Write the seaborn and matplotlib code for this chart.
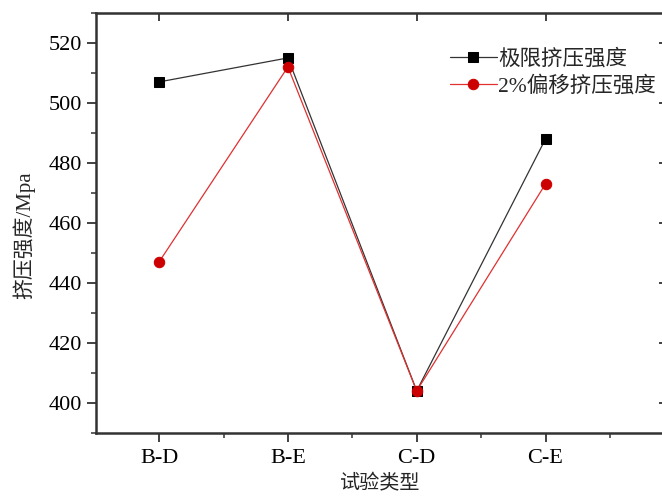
import pandas as pd
import matplotlib
matplotlib.use('Agg')
import matplotlib.pyplot as plt
import seaborn as sns
from matplotlib.ticker import MultipleLocator

# data
types = ['B-D', 'B-E', 'C-D', 'C-E']
ultimate = [507, 515, 404, 488]
offset_2pct = [447, 512, 404, 473]

sns.set_style('ticks')
plt.rcParams['font.family'] = ['Liberation Serif', 'Noto Sans CJK SC']
plt.rcParams['axes.unicode_minus'] = False

df = pd.DataFrame({'type': types, 'ult': ultimate, 'off': offset_2pct})

fig = plt.figure(figsize=(6.62, 4.97), dpi=100)
ax = fig.add_axes([0.145, 0.129, 0.86, 0.845])

sns.lineplot(data=df, x='type', y='ult', ax=ax, color='#333333', lw=0.9,
             marker='s', markersize=7, markerfacecolor='black',
             markeredgecolor='black', label='极限挤压强度', sort=False)
sns.lineplot(data=df, x='type', y='off', ax=ax, color='#e03030', lw=0.9,
             marker='o', markersize=7.5, markerfacecolor='#cc0000',
             markeredgecolor='#cc0000', label='2%偏移挤压强度', sort=False)

ax.set_ylim(390, 530)
ax.set_xlim(-0.49, 3.93)
ax.yaxis.set_major_locator(MultipleLocator(20))
ax.yaxis.set_minor_locator(MultipleLocator(10))
ax.xaxis.set_minor_locator(MultipleLocator(0.5))

for s in ax.spines.values():
    s.set_linewidth(1.8)
    s.set_color('#333333')

ax.tick_params(axis='both', which='major', direction='out', length=6.5, width=1.3,
               labelsize=16, colors='#333333', labelcolor='black')
ax.tick_params(axis='x', which='major', pad=5)
ax.tick_params(axis='both', which='minor', direction='out', length=3.5, width=1.1,
               colors='#333333')
ax.tick_params(axis='both', which='both', top=False, right=False)

# inward ticks on top and right edges
axt = ax.secondary_xaxis('top')
axt.set_xticks(range(len(types)))
axt.tick_params(direction='in', length=6, width=1.3, labeltop=False, colors='#333333')
axt.set_xticklabels([])
axr = ax.secondary_yaxis('right')
axr.yaxis.set_major_locator(MultipleLocator(20))
axr.tick_params(direction='in', length=4, width=1.3, labelright=False, colors='#333333')

ax.set_xlabel('试验类型', fontsize=14.5)
ax.set_ylabel('挤压强度/Mpa', fontsize=15)
ax.xaxis.set_label_coords(0.5, -0.1)
ax.yaxis.set_label_coords(-0.107, 0.47)

ax.legend(loc='upper right', bbox_to_anchor=(1.01, 0.95), frameon=False,
          fontsize=15.5, handlelength=2.2, handletextpad=0.05, labelspacing=0.3,
          borderpad=0.2)

fig.savefig('out.png', dpi=100)
